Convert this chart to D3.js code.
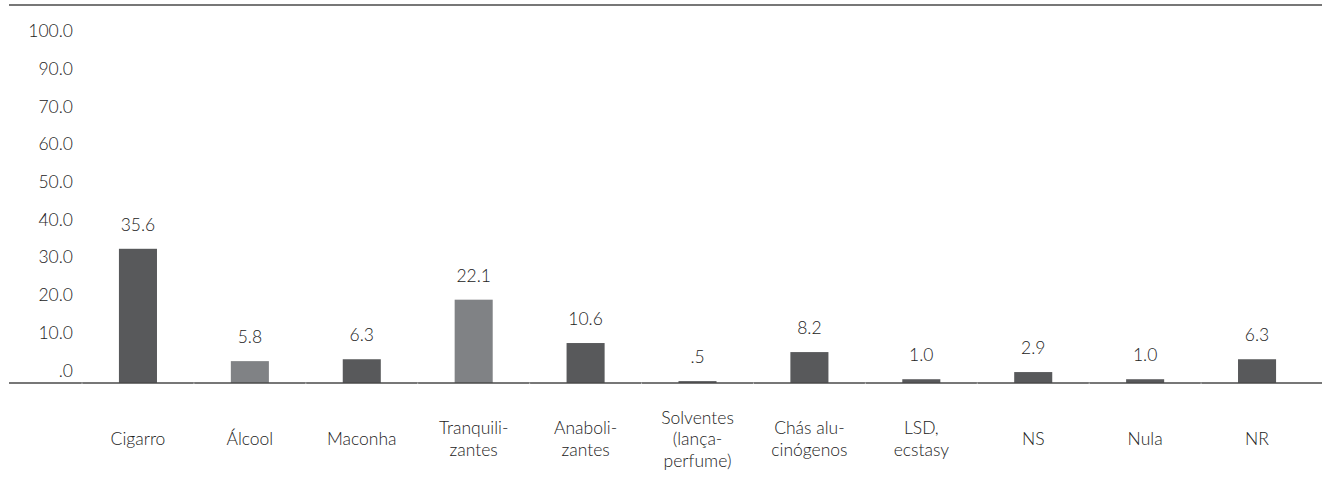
<!DOCTYPE html>
<html>
<head>
<meta charset="utf-8">
<script src="https://cdn.jsdelivr.net/npm/d3@7"></script>
<style>
    body { margin: 0; background: #fff; }
    svg text { font-family: Lato, "Open Sans", sans-serif; font-weight: 300; fill: #222; }
</style>
</head>
<body>
<svg id="chart" width="1322" height="481"></svg>
<script>
// categories (line breaks as printed under the bars)
const categories = [
    ['Cigarro'],
    ['Álcool'],
    ['Maconha'],
    ['Tranquili-', 'zantes'],
    ['Anaboli-', 'zantes'],
    ['Solventes', '(lança-', 'perfume)'],
    ['Chás alu-', 'cinógenos'],
    ['LSD,', 'ecstasy'],
    ['NS'],
    ['Nula'],
    ['NR']
];
const values = [35.6, 5.8, 6.3, 22.1, 10.6, 0.5, 8.2, 1.0, 2.9, 1.0, 6.3];
// the printed axis skips 80.0 and ends on 100.0
const tickValues = [0, 10, 20, 30, 40, 50, 60, 70, 80, 90];
const tickLabels = ['.0', '10.0', '20.0', '30.0', '40.0', '50.0', '60.0', '70.0', '90.0', '100.0'];
const lightBars = ['Álcool', 'Tranquilizantes'];

const svg = d3.select('#chart');
const W = 1322;
const lineLeft = 9;
const dark = '#58595b';
const light = '#808285';
const fontSize = '17.5px';

const keys = categories.map((c) => c.join('').replace(/-/g, ''));

const x = d3.scaleBand()
    .domain(keys)
    .range([82, 1313])
    .paddingInner(0.66)
    .paddingOuter(0.33);

const y = d3.scaleLinear()
    .domain([0, 100])
    .range([383, 6]);

const fmt = (v) => d3.format('.1f')(v).replace(/^0\./, '.');

// y axis labels (sit a little above their tick positions)
const yAxis = d3.axisLeft(y)
    .tickValues(tickValues)
    .tickFormat((d, i) => tickLabels[i])
    .tickSize(0)
    .tickPadding(0);

svg.append('g')
    .attr('transform', 'translate(73,0)')
    .call(yAxis)
    .call((g) => g.select('.domain').remove())
    .call((g) => g.selectAll('text')
        .attr('dy', null)
        .attr('y', -7)
        .attr('font-size', null)
        .attr('font-family', null)
        .style('font-size', fontSize));

// bars
svg.append('g')
  .selectAll('rect')
  .data(values)
  .join('rect')
    .attr('x', (d, i) => x(keys[i]))
    .attr('y', (d) => y(d))
    .attr('width', x.bandwidth())
    .attr('height', (d) => y(0) - y(d))
    .attr('fill', (d, i) => lightBars.includes(keys[i]) ? light : dark);

// value labels
svg.append('g')
  .selectAll('text')
  .data(values)
  .join('text')
    .attr('x', (d, i) => x(keys[i]) + x.bandwidth() / 2)
    .attr('y', (d) => y(d) - 18)
    .attr('text-anchor', 'middle')
    .style('font-size', fontSize)
    .text((d) => fmt(d));

// top rule and baseline
[y(100) - 1, y(0)].forEach((yy) => {
    svg.append('line')
        .attr('x1', lineLeft).attr('x2', W)
        .attr('y1', yy).attr('y2', yy)
        .attr('stroke', '#4a4a4a')
        .attr('stroke-width', 1.5);
});

// faint category separators on the baseline
svg.append('g')
  .selectAll('line')
  .data(keys)
  .join('line')
    .attr('x1', (d) => x(d) - x.step() * x.paddingInner() / 2)
    .attr('x2', (d) => x(d) - x.step() * x.paddingInner() / 2)
    .attr('y1', y(0) - 0.5)
    .attr('y2', y(0) + 1)
    .attr('stroke', '#bbb')
    .attr('stroke-width', 1);

// category labels, vertically centred around one line
const lineH = 21.5;
const catG = svg.append('g');
categories.forEach((lines, i) => {
    const cx = x(keys[i]) + x.bandwidth() / 2;
    const t = catG.append('text')
        .attr('text-anchor', 'middle')
        .style('font-size', fontSize);
    lines.forEach((ln, j) => {
        t.append('tspan')
            .attr('x', cx)
            .attr('y', 445 + (j - (lines.length - 1) / 2) * lineH)
            .text(ln);
    });
});
</script>
</body>
</html>
